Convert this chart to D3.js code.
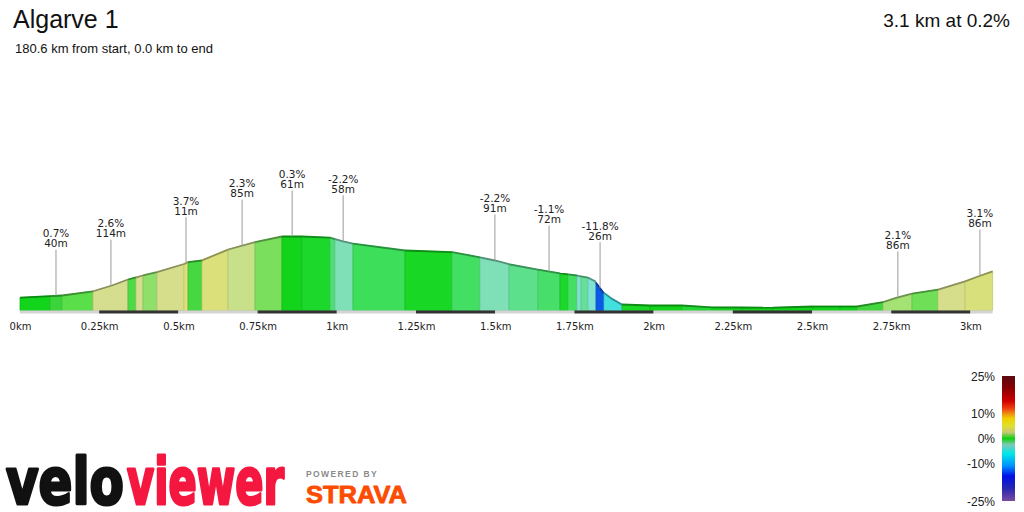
<!DOCTYPE html>
<html>
<head>
<meta charset="utf-8">
<script src="https://cdn.jsdelivr.net/npm/d3@7"></script>
<style>
  body { margin: 0; background: #fff; }
  svg { display: block; }
</style>
</head>
<body>
<div id="chart"></div>
<script>
// elevation profile, distance in km and elevation in m
var dist = [0, 0.095, 0.133, 0.23, 0.29, 0.341, 0.388, 0.432, 0.521, 0.53, 0.574, 0.657, 0.742, 0.827, 0.89,
            0.979, 1.02, 1.051, 1.215, 1.364, 1.452, 1.499, 1.547, 1.635, 1.705, 1.758, 1.793, 1.815, 1.84,
            1.869, 1.9, 1.989, 2.09, 2.184, 2.377, 2.503, 2.642, 2.724, 2.768, 2.816, 2.898, 2.983, 3.024, 3.07];
var elev = [23.2, 23.6, 23.75, 24.8, 26.25, 27.75, 28.75, 29.6, 31.7, 32.1, 32.5, 35.25, 37.1, 38.5, 38.5,
            38.2, 37.3, 36.7, 35.0, 34.6, 33.3, 32.5, 31.5, 30.2, 29.3, 28.75, 28.2, 27.3, 24.6,
            22.9, 21.5, 21.25, 21.25, 20.8, 20.7, 21.0, 21.0, 22.1, 23.2, 24.2, 25.2, 27.3, 28.5, 29.8];

// gradient segments: start km and grade %
var segStart = [0, 0.0947, 0.1326, 0.2304, 0.3409, 0.3662, 0.3883, 0.4324, 0.5177, 0.5303, 0.5745, 0.6566,
                0.7418, 0.827, 0.8902, 0.9785, 0.9943, 1.0511, 1.2153, 1.3636, 1.452, 1.5436, 1.6351, 1.7045,
                1.7298, 1.7582, 1.7708, 1.7929, 1.8182, 1.8434, 1.9003, 1.9886, 2.0896, 2.1843, 2.279, 2.3769,
                2.5032, 2.5884, 2.642, 2.7241, 2.8157, 2.8977, 2.983];
var segGrade = [0.3, 0.7, 1.2, 2.6, 1.0, 2.6, 1.7, 2.7, 3.7, 0.9, 3.4, 2.3, 1.5, 0.3, -0.3,
                -1.2, -2.2, -0.9, -0.2, -1.0, -2.2, -1.5, -1.1, -0.3, -1.0, -2.8, -1.7, -3.0, -11.8, -5.5,
                -0.2, 0.0, -0.4, -0.1, 0.0, 0.2, 0.0, 0.1, 0.8, 2.1, 1.4, 2.7, 3.1];

// callouts
var annKm = [0.1136, 0.287, 0.524, 0.701, 0.859, 1.02, 1.499, 1.67, 1.831, 2.771, 3.03];
var annGrade = [0.7, 2.6, 3.7, 2.3, 0.3, -2.2, -2.2, -1.1, -11.8, 2.1, 3.1];
var annLen = [40, 114, 11, 85, 61, 58, 91, 72, 26, 86, 86];

var tickKm = [0, 0.25, 0.5, 0.75, 1, 1.25, 1.5, 1.75, 2, 2.25, 2.5, 2.75, 3];
var totalKm = 3.07;

var legendTicks = [25, 10, 0, -10, -25];

var width = 1024, height = 512;
var svg = d3.select("#chart").append("svg")
    .attr("width", width)
    .attr("height", height);

var x = d3.scaleLinear().domain([0, totalKm]).range([20, 992.6]);
var y = d3.scaleLinear().domain([20, 45]).range([310.5, 210.5]);
var elevAt = d3.scaleLinear().domain(dist).range(elev);

// colour for each grade
var gradeColor = d3.scaleLinear()
    .domain([-12, -5.5, -3, -2.2, -1.5, -1, -0.3, 0, 0.3, 0.7, 1.2, 1.7, 2.1, 2.3, 2.6, 3.1, 3.7])
    .range(['#0a55e6', '#44e0e0', '#80e2d0', '#7fe0b8', '#5ce08c', '#42df62', '#1cd82a', '#12d41a',
            '#12d41a', '#3bd43b', '#5ade4a', '#8fe06a', '#a5e274', '#c9e08a', '#d5dd8f', '#d8e07c', '#dfe07a']);

// header
svg.append("text").attr("x", 13).attr("y", 28)
    .style("font-family", "'Liberation Sans', Arial, sans-serif").style("font-size", "25px")
    .attr("fill", "#111").text("Algarve 1");
svg.append("text").attr("x", 15).attr("y", 53)
    .style("font-family", "'Liberation Sans', Arial, sans-serif").style("font-size", "13px")
    .attr("fill", "#111").text("180.6 km from start, 0.0 km to end");
svg.append("text").attr("x", 1010).attr("y", 27).attr("text-anchor", "end")
    .style("font-family", "'Liberation Sans', Arial, sans-serif").style("font-size", "19px")
    .attr("fill", "#111").text("3.1 km at 0.2%");

// profile segments
var base = y(20);
var segs = segStart.map(function(s, i) {
    var e = i < segStart.length - 1 ? segStart[i + 1] : totalKm;
    var ks = [s].concat(dist.filter(function(d) { return d > s && d < e; })).concat([e]);
    return {grade: segGrade[i], top: ks.map(function(k) { return [x(k), y(elevAt(k))]; }), s: s, e: e};
});

var profile = svg.append("g").attr("class", "profile");
profile.selectAll("path.seg")
    .data(segs)
    .enter().append("path")
    .attr("class", "seg")
    .attr("d", function(d) {
        var pts = d.top.concat([[x(d.e), base], [x(d.s), base]]);
        return "M" + pts.join("L") + "Z";
    })
    .attr("fill", function(d) { return gradeColor(d.grade); })
    .attr("stroke", function(d) { return d3.color(gradeColor(d.grade)).darker(0.35); })
    .attr("stroke-width", 0.8);

profile.selectAll("path.top")
    .data(segs)
    .enter().append("path")
    .attr("class", "top")
    .attr("d", function(d) { return d3.line()(d.top); })
    .attr("fill", "none")
    .attr("stroke", function(d) { return d3.color(gradeColor(d.grade)).darker(1.2); })
    .attr("stroke-width", 1.8);

// distance bar
var bands = d3.range(Math.ceil(totalKm / 0.25)).map(function(i) {
    return {a: i * 0.25, b: Math.min((i + 1) * 0.25, totalKm), odd: i % 2 == 1};
});
svg.selectAll("rect.band")
    .data(bands)
    .enter().append("rect")
    .attr("class", "band")
    .attr("x", function(d) { return x(d.a); })
    .attr("y", base)
    .attr("width", function(d) { return x(d.b) - x(d.a); })
    .attr("height", 3)
    .attr("fill", function(d) { return d.odd ? "#333" : "#d4d4d4"; });

var xAxis = d3.axisBottom(x)
    .tickValues(tickKm)
    .tickSize(0)
    .tickPadding(9)
    .tickFormat(function(d) { return d + "km"; });
var gx = svg.append("g")
    .attr("transform", "translate(0," + (base + 3) + ")")
    .call(xAxis);
gx.select(".domain").remove();
gx.selectAll("text")
    .style("font-family", "'DejaVu Sans', Verdana, sans-serif")
    .style("font-size", "10px")
    .attr("fill", "#222");

// callouts
var ann = annKm.map(function(k, i) {
    return {x: x(k), py: y(elevAt(k)), g: annGrade[i], len: annLen[i]};
});
var callout = svg.selectAll("g.callout")
    .data(ann)
    .enter().append("g")
    .attr("class", "callout");
callout.append("line")
    .attr("x1", function(d) { return d.x; })
    .attr("x2", function(d) { return d.x; })
    .attr("y1", function(d) { return d.py - 46; })
    .attr("y2", function(d) { return d.py; })
    .attr("stroke", "#9a9a9a")
    .attr("stroke-width", 1);
callout.append("text")
    .attr("x", function(d) { return d.x; })
    .attr("y", function(d) { return d.py - 58.5; })
    .attr("text-anchor", "middle")
    .style("font-family", "'DejaVu Sans', Verdana, sans-serif")
    .style("font-size", "10.5px")
    .attr("fill", "#222")
    .text(function(d) { return d.g + "%"; });
callout.append("text")
    .attr("x", function(d) { return d.x; })
    .attr("y", function(d) { return d.py - 48.5; })
    .attr("text-anchor", "middle")
    .style("font-family", "'DejaVu Sans', Verdana, sans-serif")
    .style("font-size", "10.5px")
    .attr("fill", "#222")
    .text(function(d) { return d.len + "m"; });

// colour legend
var ly = d3.scaleLinear().domain([25, -25]).range([376, 501]);
var grad = svg.append("defs").append("linearGradient")
    .attr("id", "gradeScale")
    .attr("x1", 0).attr("y1", 0).attr("x2", 0).attr("y2", 1);
var stops = [[25, '#5a0a10'], [20, '#8a0000'], [15, '#d00000'], [12, '#ee4010'], [10, '#f08c10'],
             [8, '#f0d000'], [5, '#e0e030'], [2.5, '#c8c878'], [0, '#10d010'], [-2.5, '#80c8b8'],
             [-6, '#00e8e8'], [-11, '#0090ff'], [-15, '#0010e8'], [-20, '#2828b0'], [-25, '#7a4aa0']];
grad.selectAll("stop")
    .data(stops)
    .enter().append("stop")
    .attr("offset", function(d) { return (25 - d[0]) / 50; })
    .attr("stop-color", function(d) { return d[1]; });
svg.append("rect")
    .attr("x", 1002).attr("y", ly(25))
    .attr("width", 13).attr("height", ly(-25) - ly(25))
    .attr("fill", "url(#gradeScale)");
svg.selectAll("text.legend")
    .data(legendTicks)
    .enter().append("text")
    .attr("class", "legend")
    .attr("x", 995)
    .attr("y", function(d) { return ly(d) + 4.5; })
    .attr("text-anchor", "end")
    .style("font-family", "'Liberation Sans', Arial, sans-serif")
    .style("font-size", "12px")
    .attr("fill", "#222")
    .text(function(d) { return d + "%"; });

// logos, squeezed horizontally to the wordmark width
function logoText(txt, x0, y0, w, size, family, color, sw) {
    var t = svg.append("text")
        .style("font-family", family).style("font-size", size + "px").style("font-weight", "bold")
        .attr("fill", color).attr("stroke", color).attr("stroke-width", sw)
        .attr("stroke-linejoin", "round")
        .text(txt);
    var natural = t.node().getComputedTextLength();
    t.attr("transform", "translate(" + x0 + "," + y0 + ") scale(" + (w / natural) + ",1)");
    return t;
}
logoText("velo", 6, 504, 118, 64, "'DejaVu Sans', sans-serif", "#111", 3);
logoText("viewer", 127, 504, 157, 64, "'DejaVu Sans', sans-serif", "#f4173f", 3);
svg.append("text").attr("x", 306).attr("y", 477)
    .style("font-family", "'Liberation Sans', Arial, sans-serif").style("font-size", "8.5px").style("font-weight", "bold")
    .style("letter-spacing", "1.4px")
    .attr("fill", "#8a8a8a").text("POWERED BY");
logoText("STRAVA", 306, 503, 101, 24, "'Liberation Sans', Arial, sans-serif", "#fc4c02", 0.8);
</script>
</body>
</html>
